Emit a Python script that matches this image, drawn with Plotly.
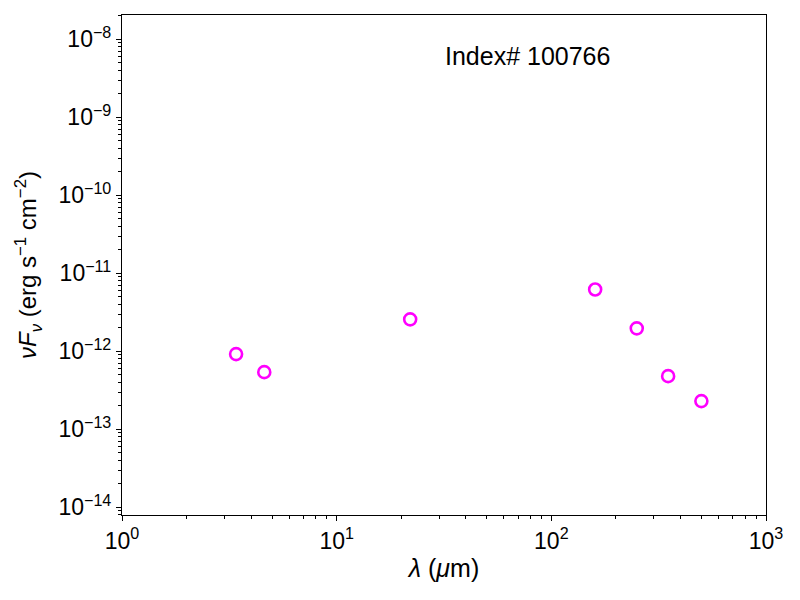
import plotly.graph_objects as go

wavelength_um = [3.4, 4.6, 22, 160, 250, 350, 500]
nu_f_nu = [9.2e-13, 5.4e-13, 2.57e-12, 6.2e-12, 1.97e-12, 4.8e-13, 2.3e-13]

x_tick_vals = [1, 10, 100, 1000]
x_tick_text = ["10<sup>0</sup>", "10<sup>1</sup>", "10<sup>2</sup>", "10<sup>3</sup>"]
y_tick_vals = [1e-14, 1e-13, 1e-12, 1e-11, 1e-10, 1e-9, 1e-8]
y_tick_text = ["10<sup>\u221214</sup>", "10<sup>\u221213</sup>", "10<sup>\u221212</sup>",
               "10<sup>\u221211</sup>", "10<sup>\u221210</sup>", "10<sup>\u22129</sup>",
               "10<sup>\u22128</sup>"]
label_text = "Index# 100766"

x_minor = [m * 10 ** e for e in range(0, 3) for m in range(2, 10)]
y_minor = [m * 10.0 ** e for e in range(-15, -7) for m in range(2, 10)]

FONT = "Liberation Sans, Arial, Helvetica, sans-serif"

fig = go.Figure()
fig.add_trace(go.Scatter(
    x=wavelength_um, y=nu_f_nu, mode="markers",
    marker=dict(symbol="circle-open", size=12, color="#ff00ff",
                line=dict(color="#ff00ff", width=2.6)),
    showlegend=False, cliponaxis=False,
))

axis_common = dict(
    showline=True, linecolor="black", linewidth=1.2, mirror=True,
    showgrid=False, zeroline=False,
    ticks="outside", ticklen=5, tickwidth=1, tickcolor="black",
    tickfont=dict(family=FONT, size=23, color="black"),
)

fig.update_xaxes(
    type="log", range=[0, 3],
    tickvals=x_tick_vals, ticktext=x_tick_text,
    minor=dict(tickvals=x_minor, ticks="outside", ticklen=2.5, tickwidth=0.8,
               tickcolor="black", showgrid=False),
    title=dict(text="<i>\u03bb</i> (<i>\u03bc</i>m)", font=dict(family=FONT, size=25, color="black"), standoff=6),
    automargin=False,
    **axis_common,
)
fig.update_yaxes(
    type="log", range=[-14.099, -7.688],
    tickvals=y_tick_vals, ticktext=y_tick_text,
    minor=dict(tickvals=y_minor, ticks="outside", ticklen=2.5, tickwidth=0.8,
               tickcolor="black", showgrid=False),
    title=dict(text="<i>\u03bdF</i><sub><i>\u03bd</i></sub> (erg s<sup>\u22121</sup> cm<sup>\u22122</sup>)",
               font=dict(family=FONT, size=24, color="black"), standoff=14),
    automargin=False,
    **axis_common,
)

fig.add_annotation(
    text=label_text, xref="paper", yref="paper", x=0.629, y=0.918,
    showarrow=False, xanchor="center", yanchor="middle",
    font=dict(family=FONT, size=25, color="black"),
)

fig.update_layout(
    width=792, height=592,
    margin=dict(l=114, r=34, t=7, b=85),
    paper_bgcolor="white", plot_bgcolor="white",
)

fig.write_html("out.html")
